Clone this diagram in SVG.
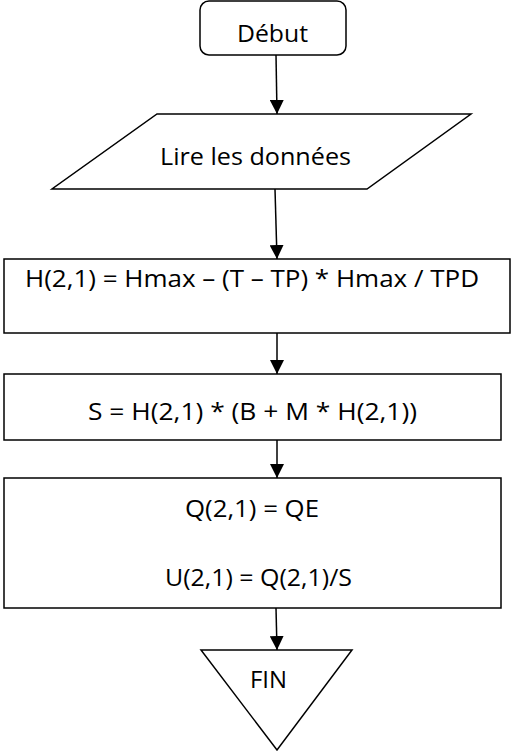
<svg xmlns="http://www.w3.org/2000/svg" width="511" height="753" viewBox="0 0 511 753">
<defs>
<marker id="ah" markerWidth="14" markerHeight="14" refX="14" refY="7" orient="auto" markerUnits="userSpaceOnUse">
<path d="M0,0 L14,7 L0,14 Z" fill="#000"/>
</marker>
<style>
.s{fill:#fff;stroke:#000;stroke-width:1.5}
.t{font-family:"Open Sans","Liberation Sans",sans-serif;font-size:24px;fill:#000}
.c{stroke:#000;stroke-width:1.5;fill:none;marker-end:url(#ah)}
</style>
</defs>
<rect width="511" height="753" fill="#fff"/>
<g id="connectors">
<line class="c" x1="276" y1="55" x2="277" y2="114"/>
<line class="c" x1="275" y1="189" x2="277" y2="259"/>
<line class="c" x1="277" y1="333" x2="277" y2="374"/>
<line class="c" x1="277" y1="440" x2="277" y2="478"/>
<line class="c" x1="276" y1="608" x2="277" y2="650"/>
</g>
<g id="debut">
<rect class="s" x="200" y="1" width="146" height="54" rx="9"/>
<text class="t" x="237" y="42" textLength="71" lengthAdjust="spacingAndGlyphs">Début</text>
</g>
<g id="lire">
<polygon class="s" points="157,114 471,114 367,189 52,189"/>
<text class="t" x="160" y="165" textLength="191" lengthAdjust="spacingAndGlyphs">Lire les données</text>
</g>
<g id="h">
<rect class="s" x="4" y="259" width="506" height="74"/>
<text class="t" x="25" y="287" textLength="454" lengthAdjust="spacingAndGlyphs">H(2,1) = Hmax – (T – TP) * Hmax / TPD</text>
</g>
<g id="s">
<rect class="s" x="4" y="374" width="497" height="66"/>
<text class="t" x="88" y="420" textLength="329" lengthAdjust="spacingAndGlyphs">S = H(2,1) * (B + M * H(2,1))</text>
</g>
<g id="qu">
<rect class="s" x="4" y="478" width="497" height="130"/>
<text class="t" x="185" y="517" textLength="134" lengthAdjust="spacingAndGlyphs">Q(2,1) = QE</text>
<text class="t" x="165" y="586" textLength="187" lengthAdjust="spacingAndGlyphs">U(2,1) = Q(2,1)/S</text>
</g>
<g id="fin">
<polygon class="s" points="201,650 352,650 277,750"/>
<text class="t" x="250" y="688" textLength="37" lengthAdjust="spacingAndGlyphs">FIN</text>
</g>
</svg>
